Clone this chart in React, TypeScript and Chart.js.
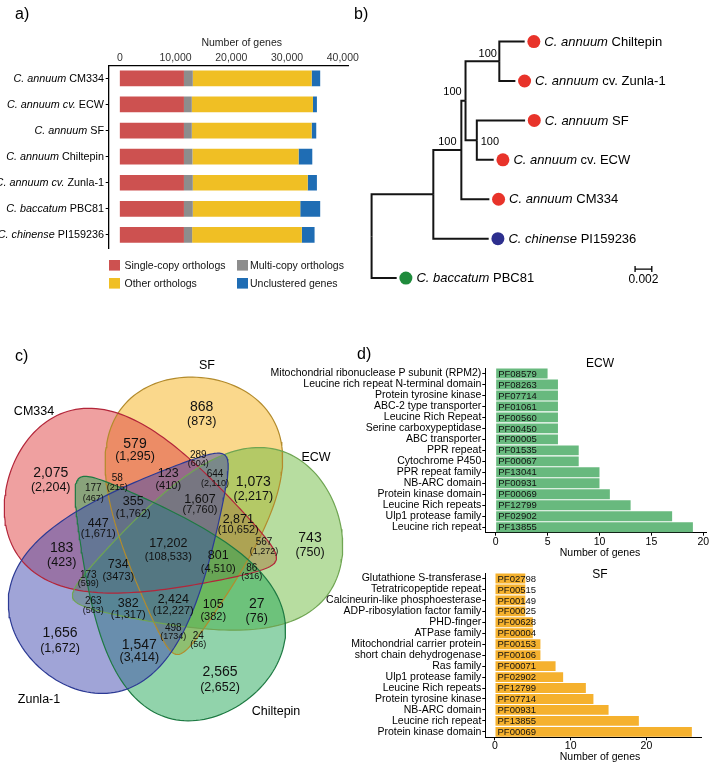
import React, { useEffect, useRef } from 'react';
import { Chart, registerables } from 'chart.js';

Chart.register(...registerables);

const FONT = '"Liberation Sans", Arial, Helvetica, sans-serif';
Chart.defaults.font.family = FONT;
Chart.defaults.color = '#000';

// ---------------- panel a data ----------------
const genomeSpecies = ['C. annuum', 'C. annuum cv.', 'C. annuum', 'C. annuum', 'C. annuum cv.', 'C. baccatum', 'C. chinense'];
const genomeNames = ['CM334', 'ECW', 'SF', 'Chiltepin', 'Zunla-1', 'PBC81', 'PI159236'];
const singleCopy = [11500, 11500, 11500, 11500, 11500, 11500, 11500];
const multiCopy = [1590, 1410, 1410, 1530, 1590, 1590, 1470];
const otherOrthologs = [21330, 21740, 21510, 19040, 20620, 19280, 19680];
const unclustered = [1530, 710, 820, 2460, 1650, 3580, 2290];
const geneTicks = [0, 10000, 20000, 30000, 40000];
const orthoLegend = ['Single-copy orthologs', 'Multi-copy orthologs', 'Other orthologs', 'Unclustered genes'];
const orthoColors = ['#cd5150', '#8d8d8d', '#f0bf24', '#1f6db4'];
const axisTitleA = 'Number of genes';

// ---------------- panel b data ----------------
const treeSpecies = ['C. annuum', 'C. annuum', 'C. annuum', 'C. annuum', 'C. annuum', 'C. chinense', 'C. baccatum'];
const treeStrain = [' Chiltepin', ' cv. Zunla-1', ' SF', ' cv. ECW', ' CM334', ' PI159236', ' PBC81'];
const treeLeafDepth = [0.0183, 0.01719, 0.01835, 0.0146, 0.01408, 0.0140, 0.0030];
const treeLeafParent = ['N4', 'N4', 'N5', 'N5', 'N2', 'N1', 'root'];
const treeLeafColor = ['#e8332a', '#e8332a', '#e8332a', '#e8332a', '#e8332a', '#2d2f8e', '#1f8b3c'];
const treeNodeIds = ['root', 'N1', 'N2', 'N3', 'N4', 'N5'];
const treeNodeParent = ['', 'root', 'N1', 'N2', 'N3', 'N3'];
const treeNodeDepth = [0, 0.00738, 0.01073, 0.01123, 0.01527, 0.01258];
const treeNodeSupport = ['', '', '100', '100', '100', '100'];
const scaleBarLength = 0.002;
const scaleBarLabel = '0.002';

// ---------------- panel c data ----------------
const vennSets = ['CM334', 'SF', 'ECW', 'Zunla-1', 'Chiltepin'];
const vennCounts = ['868', '579', '2,075', '1,073', '289', '644', '123', '58', '177', '355', '1,607', '2,871', '447', '567', '743', '183', '17,202', '801', '86', '734', '173', '263', '382', '2,424', '105', '27', '498', '24', '1,656', '1,547', '2,565'];
const vennTotals = ['(873)', '(1,295)', '(2,204)', '(2,217)', '(604)', '(2,110)', '(410)', '(215)', '(467)', '(1,762)', '(7,760)', '(10,652)', '(1,671)', '(1,272)', '(750)', '(423)', '(108,533)', '(4,510)', '(316)', '(3473)', '(599)', '(563)', '(1,317)', '(12,227)', '(382)', '(76)', '(1734)', '(56)', '(1,672)', '(3,414)', '(2,652)'];

// ---------------- panel d data ----------------
const ecwDomains = ['Mitochondrial ribonuclease P subunit (RPM2)', 'Leucine rich repeat N-terminal domain', 'Protein tyrosine kinase', 'ABC-2 type transporter', 'Leucine Rich Repeat', 'Serine carboxypeptidase', 'ABC transporter', 'PPR repeat', 'Cytochrome P450', 'PPR repeat family', 'NB-ARC domain', 'Protein kinase domain', 'Leucine Rich repeats', 'Ulp1 protease family', 'Leucine rich repeat'];
const ecwPfam = ['PF08579', 'PF08263', 'PF07714', 'PF01061', 'PF00560', 'PF00450', 'PF00005', 'PF01535', 'PF00067', 'PF13041', 'PF00931', 'PF00069', 'PF12799', 'PF02902', 'PF13855'];
const ecwCounts = [5, 6, 6, 6, 6, 6, 6, 8, 8, 10, 10, 11, 13, 17, 19];
const ecwTicks = [0, 5, 10, 15, 20];
const sfDomains = ['Glutathione S-transferase', 'Tetratricopeptide repeat', 'Calcineurin-like phosphoesterase', 'ADP-ribosylation factor family', 'PHD-finger', 'ATPase family', 'Mitochondrial carrier protein', 'short chain dehydrogenase', 'Ras family', 'Ulp1 protease family', 'Leucine Rich repeats', 'Protein tyrosine kinase', 'NB-ARC domain', 'Leucine rich repeat', 'Protein kinase domain'];
const sfPfam = ['PF02798', 'PF00515', 'PF00149', 'PF00025', 'PF00628', 'PF00004', 'PF00153', 'PF00106', 'PF00071', 'PF02902', 'PF12799', 'PF07714', 'PF00931', 'PF13855', 'PF00069'];
const sfCounts = [4, 4, 4, 4, 5, 5, 6, 6, 8, 9, 12, 13, 15, 19, 26];
const sfTicks = [0, 10, 20];

// ---------------- layout (positions / sizes / styles) ----------------
const treeDotGap = 0.0011;
const treeSupportOffset: Record<string, [number, number]> = { N2: [-14, -8], N3: [-13, -8.5], N4: [-11.6, -7.3], N5: [13, 2] };
const scaleBarStart = 0.0315;
const scaleBarY = 5.77;

const vennCx = [143, 189, 205, 133.5, 163];
const vennCy = [517, 516, 555, 562.5, 589];
const vennA = [140, 139, 139, 141, 139];
const vennB = [80, 78, 79, 77, 78];
const vennRot = [18, 95, 162, -49.6, -127];
const vennK = 0.6;
const vennOrder = [3, 4, 2, 0, 1]; // lower = drawn on top
const vennFill = ['rgba(223,65,65,0.5)', 'rgba(245,177,25,0.5)', 'rgba(111,187,65,0.5)', 'rgba(65,73,175,0.5)', 'rgba(35,167,87,0.5)'];
const vennLine = ['#b3263a', '#b38b2c', '#6fa552', '#2c3a94', '#1e7a43'];
const vennSetX = [34, 207, 316, 39, 276];
const vennSetY = [412, 366, 458, 700, 712];
const vennLabelX = [201.7, 135, 50.7, 253.3, 198.3, 215, 168.3, 117.3, 93.3, 133.3, 200, 238.3, 98.3, 264, 310, 61.7, 168.3, 218.3, 251.7, 118.3, 88.3, 93.3, 128.3, 173.3, 213.3, 256.7, 173.3, 198.3, 60, 139.3, 220];
const vennCountY = [406.7, 444, 472.7, 481.7, 455, 474, 474, 478.3, 488.3, 501.7, 499.3, 519.3, 523.3, 542.7, 538.3, 548.3, 543.3, 556, 568.3, 565, 575, 601.7, 603.3, 599.3, 605, 604.3, 628.3, 636, 633.3, 645, 671.7];
const vennTotalY = [421.7, 456.7, 487.3, 496.7, 464, 484, 485.7, 487.7, 498.3, 514.3, 510, 530, 534.3, 551.7, 552.3, 562.3, 556.7, 569.3, 576.7, 577.3, 583.3, 611, 615, 611, 616.7, 618.3, 636.7, 645, 648.3, 657.3, 687.3];
const vennLabelSize = ['L', 'L', 'L', 'L', 'S', 'S', 'M', 'S', 'S', 'M', 'M', 'M', 'M', 'S', 'L', 'L', 'M', 'M', 'S', 'M', 'S', 'S', 'M', 'M', 'M', 'L', 'S', 'S', 'L', 'L', 'L'];
const vennFontSizes: Record<string, [number, number]> = { L: [14, 12.5], M: [12.5, 11], S: [10, 9] };

type Part = { t: string; it: boolean };
function drawParts(ctx: CanvasRenderingContext2D, parts: Part[], x: number, y: number, size: number, align: 'left' | 'right') {
  const fonts = parts.map((p) => `${p.it ? 'italic ' : ''}${size}px ${FONT}`);
  const widths = parts.map((p, i) => {
    ctx.font = fonts[i];
    return ctx.measureText(p.t).width;
  });
  const total = widths.reduce((a, b) => a + b, 0);
  let cx = align === 'right' ? x - total : x;
  ctx.textAlign = 'left';
  parts.forEach((p, i) => {
    ctx.font = fonts[i];
    ctx.fillText(p.t, cx, y);
    cx += widths[i];
  });
}

function eggPoints(cx: number, cy: number, a: number, b: number, rotDeg: number, k: number, n = 180) {
  const th = (rotDeg * Math.PI) / 180;
  const c = Math.cos(th);
  const s = Math.sin(th);
  const pts: { x: number; y: number }[] = [];
  for (let i = 0; i <= n; i++) {
    const t = (i / n) * 2 * Math.PI;
    const u = a * Math.cos(t);
    const v = b * Math.sin(t) * (1 - k * Math.cos(t));
    pts.push({ x: cx + u * c - v * s, y: cy + u * s + v * c });
  }
  return pts;
}

function buildTree() {
  const depth: Record<string, number> = {};
  const parent: Record<string, string> = {};
  const ypos: Record<string, number> = {};
  const children: Record<string, string[]> = {};
  treeNodeIds.forEach((id, i) => {
    depth[id] = treeNodeDepth[i];
    parent[id] = treeNodeParent[i];
    children[id] = [];
  });
  treeSpecies.forEach((_, i) => {
    const id = 'leaf' + i;
    depth[id] = treeLeafDepth[i];
    parent[id] = treeLeafParent[i];
    ypos[id] = i;
    children[id] = [];
  });
  Object.keys(parent).forEach((id) => {
    if (parent[id]) children[parent[id]].push(id);
  });
  const getY = (id: string): number => {
    if (ypos[id] !== undefined) return ypos[id];
    const ys = children[id].map(getY);
    ypos[id] = (Math.min(...ys) + Math.max(...ys)) / 2;
    return ypos[id];
  };
  Object.keys(parent).forEach(getY);
  return { depth, parent, ypos };
}

export default function App() {
  const aRef = useRef<HTMLCanvasElement>(null);
  const bRef = useRef<HTMLCanvasElement>(null);
  const cRef = useRef<HTMLCanvasElement>(null);
  const d1Ref = useRef<HTMLCanvasElement>(null);
  const d2Ref = useRef<HTMLCanvasElement>(null);

  useEffect(() => {
    const charts: Chart[] = [];

    // ---------- panel a ----------
    const panelAPlugin = {
      id: 'panelA',
      afterDraw(chart: any) {
        const ctx: CanvasRenderingContext2D = chart.ctx;
        const ys = chart.scales.y;
        ctx.save();
        ctx.fillStyle = '#000';
        ctx.textBaseline = 'alphabetic';
        ctx.font = `16px ${FONT}`;
        ctx.textAlign = 'left';
        ctx.fillText('a)', 15, 18.5);
        ctx.font = `10.5px ${FONT}`;
        ctx.textAlign = 'center';
        ctx.fillStyle = '#222';
        ctx.fillText(axisTitleA, 241.7, 45.5);
        ctx.fillStyle = '#000';
        ctx.textBaseline = 'middle';
        genomeNames.forEach((name, i) => {
          const y = ys.getPixelForValue(i);
          drawParts(ctx, [{ t: genomeSpecies[i], it: true }, { t: ' ' + name, it: false }], 104, y + 0.5, 10.8, 'right');
        });
        // legend
        const lx = [109, 237];
        const tx = [124.5, 250];
        const ly = [265.3, 283.3];
        orthoLegend.forEach((lab, i) => {
          const col = i % 2;
          const row = Math.floor(i / 2);
          ctx.fillStyle = orthoColors[i];
          ctx.fillRect(lx[col], ly[row] - 5.3, 11, 10.6);
          ctx.fillStyle = '#111';
          ctx.font = `10.5px ${FONT}`;
          ctx.textAlign = 'left';
          ctx.fillText(lab, tx[col], ly[row] + 0.5);
        });
        ctx.restore();
      },
    };
    charts.push(
      new Chart(aRef.current as HTMLCanvasElement, {
        type: 'bar',
        data: {
          labels: genomeNames,
          datasets: [
            { label: orthoLegend[0], data: singleCopy, backgroundColor: orthoColors[0] },
            { label: orthoLegend[1], data: multiCopy, backgroundColor: orthoColors[1] },
            { label: orthoLegend[2], data: otherOrthologs, backgroundColor: orthoColors[2] },
            { label: orthoLegend[3], data: unclustered, backgroundColor: orthoColors[3] },
          ],
        },
        options: {
          indexAxis: 'y',
          animation: false,
          responsive: false,
          events: [],
          layout: { padding: { left: 0, right: 7, top: 0, bottom: 52 } },
          plugins: { legend: { display: false }, tooltip: { enabled: false } },
          datasets: { bar: { barPercentage: 0.6, categoryPercentage: 1, borderWidth: 0 } },
          scales: {
            x: {
              type: 'linear',
              position: 'top',
              stacked: true,
              min: -2000,
              max: 41058,
              afterBuildTicks: (s: any) => {
                s.ticks = geneTicks.map((v) => ({ value: v }));
              },
              afterFit: (s: any) => {
                s.height = 65.3;
              },
              ticks: {
                font: { size: 10.5 },
                color: '#333',
                padding: 1,
                maxRotation: 0,
                callback: (v: any) => Number(v).toLocaleString('en-US'),
              },
              grid: { display: false, drawTicks: false, tickLength: 0 },
              border: { display: true, color: '#000', width: 1.3 },
            },
            y: {
              type: 'category',
              stacked: true,
              afterFit: (s: any) => {
                s.width = 108.7;
              },
              ticks: { callback: () => '', autoSkip: false },
              grid: { display: true, drawOnChartArea: false, tickLength: 3, color: '#000', offset: false },
              border: { display: true, color: '#000', width: 1.3 },
            },
          },
        },
        plugins: [panelAPlugin],
      } as any)
    );

    // ---------- panel b ----------
    const tree = buildTree();
    const edgeSets: any[] = [];
    Object.keys(tree.parent).forEach((id) => {
      const p = tree.parent[id];
      if (!p) return;
      edgeSets.push({
        data: [
          { x: tree.depth[p], y: tree.ypos[p] },
          { x: tree.depth[p], y: tree.ypos[id] },
          { x: tree.depth[id], y: tree.ypos[id] },
        ],
        showLine: true,
        borderColor: '#141414',
        borderWidth: 2,
        pointRadius: 0,
        tension: 0,
        fill: false,
        borderJoinStyle: 'miter',
      });
    });
    edgeSets.push({
      data: treeLeafDepth.map((d, i) => ({ x: d + treeDotGap, y: i })),
      showLine: false,
      pointRadius: 6.5,
      pointBackgroundColor: treeLeafColor,
      pointBorderWidth: 0,
    });
    const treePlugin = {
      id: 'treeText',
      afterDatasetsDraw(chart: any) {
        const ctx: CanvasRenderingContext2D = chart.ctx;
        const { x, y } = chart.scales;
        ctx.save();
        ctx.fillStyle = '#000';
        ctx.textBaseline = 'alphabetic';
        ctx.textAlign = 'left';
        ctx.font = `16px ${FONT}`;
        ctx.fillText('b)', 14, 18.5);
        ctx.textBaseline = 'middle';
        treeSpecies.forEach((sp, i) => {
          const px = x.getPixelForValue(treeLeafDepth[i] + treeDotGap) + 10.5;
          const py = y.getPixelForValue(i);
          drawParts(ctx, [{ t: sp, it: true }, { t: treeStrain[i], it: false }], px, py + 0.5, 13, 'left');
        });
        ctx.font = `11px ${FONT}`;
        ctx.textAlign = 'center';
        treeNodeIds.forEach((id, i) => {
          if (!treeNodeSupport[i]) return;
          const off = treeSupportOffset[id] || [0, -8];
          ctx.fillText(treeNodeSupport[i], x.getPixelForValue(treeNodeDepth[i]) + off[0], y.getPixelForValue(tree.ypos[id]) + off[1]);
        });
        // scale bar
        const x1 = x.getPixelForValue(scaleBarStart);
        const x2 = x.getPixelForValue(scaleBarStart + scaleBarLength);
        const yy = y.getPixelForValue(scaleBarY);
        ctx.strokeStyle = '#000';
        ctx.lineWidth = 1.3;
        ctx.beginPath();
        ctx.moveTo(x1, yy);
        ctx.lineTo(x2, yy);
        ctx.moveTo(x1, yy - 3);
        ctx.lineTo(x1, yy + 3);
        ctx.moveTo(x2, yy - 3);
        ctx.lineTo(x2, yy + 3);
        ctx.stroke();
        ctx.font = `12px ${FONT}`;
        ctx.fillText(scaleBarLabel, (x1 + x2) / 2, yy + 11);
        ctx.restore();
      },
    };
    charts.push(
      new Chart(bRef.current as HTMLCanvasElement, {
        type: 'scatter',
        data: { datasets: edgeSets },
        options: {
          animation: false,
          responsive: false,
          events: [],
          layout: { padding: 0 },
          plugins: { legend: { display: false }, tooltip: { enabled: false } },
          scales: {
            x: { type: 'linear', min: -0.003, max: 0.03992, display: false },
            y: { type: 'linear', min: -0.8908, max: 6.3908, reverse: true, display: false },
          },
        },
        plugins: [treePlugin],
      } as any)
    );

    // ---------- panel c ----------
    const vennPlugin = {
      id: 'vennText',
      afterDatasetsDraw(chart: any) {
        const ctx: CanvasRenderingContext2D = chart.ctx;
        const { x, y } = chart.scales;
        ctx.save();
        ctx.fillStyle = '#000';
        ctx.textAlign = 'left';
        ctx.textBaseline = 'alphabetic';
        ctx.font = `16px ${FONT}`;
        ctx.fillText('c)', x.getPixelForValue(15), y.getPixelForValue(361));
        ctx.textAlign = 'center';
        ctx.textBaseline = 'middle';
        ctx.font = `12.5px ${FONT}`;
        vennSets.forEach((s, i) => {
          ctx.fillText(s, x.getPixelForValue(vennSetX[i]), y.getPixelForValue(vennSetY[i]));
        });
        ctx.fillStyle = '#111';
        vennCounts.forEach((c, i) => {
          const sz = vennFontSizes[vennLabelSize[i]];
          const px = x.getPixelForValue(vennLabelX[i]);
          ctx.font = `${sz[0]}px ${FONT}`;
          ctx.fillText(c, px, y.getPixelForValue(vennCountY[i]));
          ctx.font = `${sz[1]}px ${FONT}`;
          ctx.fillText(vennTotals[i], px, y.getPixelForValue(vennTotalY[i]));
        });
        ctx.restore();
      },
    };
    charts.push(
      new Chart(cRef.current as HTMLCanvasElement, {
        type: 'scatter',
        data: {
          datasets: vennSets.map((name, i) => ({
            label: name,
            order: vennOrder[i],
            data: eggPoints(vennCx[i], vennCy[i], vennA[i], vennB[i], vennRot[i], vennK),
            showLine: true,
            fill: 'shape',
            backgroundColor: vennFill[i],
            borderColor: vennLine[i],
            borderWidth: 1.2,
            pointRadius: 0,
            tension: 0,
          })),
        },
        options: {
          animation: false,
          responsive: false,
          events: [],
          layout: { padding: 0 },
          plugins: { legend: { display: false }, tooltip: { enabled: false }, filler: { drawTime: 'beforeDatasetsDraw' } },
          scales: {
            x: { type: 'linear', min: 0, max: 360, display: false },
            y: { type: 'linear', min: 340, max: 740, reverse: true, display: false },
          },
        },
        plugins: [vennPlugin],
      } as any)
    );

    // ---------- panel d ----------
    const makeDomainChart = (
      canvas: HTMLCanvasElement,
      labels: string[],
      counts: number[],
      pfam: string[],
      ticks: number[],
      color: string,
      cfg: { top: number; title: string; titleBase: number; axisBase: number; min: number; max: number; padTop: number; padRight: number; xh: number; letter: boolean }
    ) => {
      const plugin = {
        id: 'domainText',
        afterDatasetsDraw(chart: any) {
          const ctx: CanvasRenderingContext2D = chart.ctx;
          const meta = chart.getDatasetMeta(0);
          ctx.save();
          ctx.fillStyle = '#111';
          ctx.textAlign = 'left';
          ctx.textBaseline = 'middle';
          ctx.font = `9.5px ${FONT}`;
          meta.data.forEach((bar: any, i: number) => {
            ctx.fillText(pfam[i], bar.base + 2, bar.y + 0.5);
          });
          ctx.fillStyle = '#000';
          ctx.textBaseline = 'alphabetic';
          ctx.textAlign = 'center';
          ctx.font = `12px ${FONT}`;
          ctx.fillText(cfg.title, 600 - 230, cfg.titleBase - cfg.top);
          ctx.font = `10.5px ${FONT}`;
          ctx.fillText('Number of genes', 600 - 230, cfg.axisBase - cfg.top);
          if (cfg.letter) {
            ctx.font = `16px ${FONT}`;
            ctx.textAlign = 'left';
            ctx.fillText('d)', 357 - 230, 358.5 - cfg.top);
          }
          ctx.restore();
        },
      };
      return new Chart(canvas, {
        type: 'bar',
        data: { labels, datasets: [{ data: counts, backgroundColor: color, borderWidth: 0 }] },
        options: {
          indexAxis: 'y',
          animation: false,
          responsive: false,
          events: [],
          layout: { padding: { left: 0, right: cfg.padRight, top: cfg.padTop, bottom: 0 } },
          plugins: { legend: { display: false }, tooltip: { enabled: false } },
          datasets: { bar: { barPercentage: 0.9, categoryPercentage: 1 } },
          scales: {
            x: {
              type: 'linear',
              min: cfg.min,
              max: cfg.max,
              afterBuildTicks: (s: any) => {
                s.ticks = ticks.map((v) => ({ value: v }));
              },
              afterFit: (s: any) => {
                s.height = cfg.xh;
              },
              ticks: { font: { size: 10.5 }, color: '#000', padding: 0, maxRotation: 0 },
              grid: { display: true, drawOnChartArea: false, tickLength: 3, color: '#000' },
              border: { display: true, color: '#000', width: 1 },
            },
            y: {
              type: 'category',
              afterFit: (s: any) => {
                s.width = 255.3;
              },
              ticks: { font: { size: 10.5 }, color: '#000', padding: 1, autoSkip: false },
              grid: { display: true, drawOnChartArea: false, tickLength: 3, color: '#000', offset: false },
              border: { display: true, color: '#000', width: 1 },
            },
          },
        },
        plugins: [plugin],
      } as any);
    };
    charts.push(
      makeDomainChart(d1Ref.current as HTMLCanvasElement, ecwDomains, ecwCounts, ecwPfam, ecwTicks, '#68b97e', {
        top: 340, title: 'ECW', titleBase: 366.7, axisBase: 555.5, min: -1, max: 20.33, padTop: 28, padRight: 5.3, xh: 27.3, letter: true,
      })
    );
    charts.push(
      makeDomainChart(d2Ref.current as HTMLCanvasElement, sfDomains, sfCounts, sfPfam, sfTicks, '#f5b12e', {
        top: 560, title: 'SF', titleBase: 578.3, axisBase: 759.5, min: -1.28, max: 27.3, padTop: 13, padRight: 10.3, xh: 24.7, letter: false,
      })
    );

    return () => {
      charts.forEach((c) => c.destroy());
    };
  }, []);

  const abs = (left: number, top: number): React.CSSProperties => ({ position: 'absolute', left, top });
  return (
    <div style={{ position: 'absolute', left: 0, top: 0, width: 712, height: 762, background: '#fff', overflow: 'hidden' }}>
      <canvas ref={aRef} width={360} height={300} style={abs(0, 0)} />
      <canvas ref={bRef} width={372} height={300} style={abs(340, 0)} />
      <canvas ref={cRef} width={360} height={400} style={abs(0, 340)} />
      <canvas ref={d1Ref} width={482} height={220} style={abs(230, 340)} />
      <canvas ref={d2Ref} width={482} height={202} style={abs(230, 560)} />
    </div>
  );
}
